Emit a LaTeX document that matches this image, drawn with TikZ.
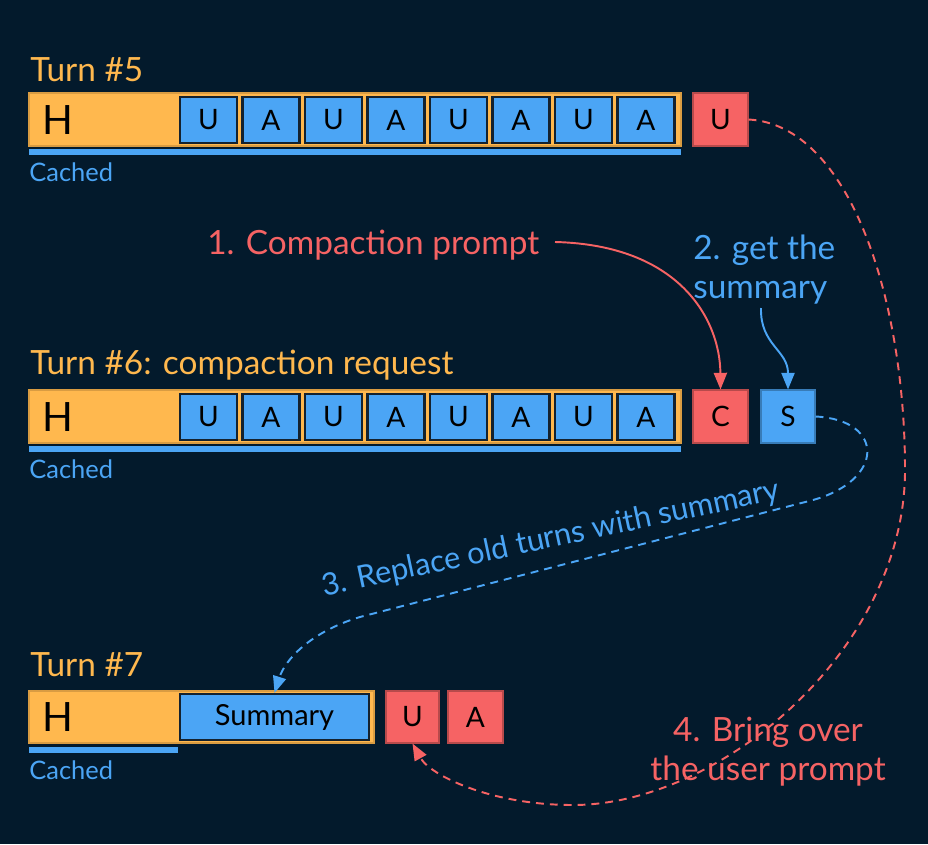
\documentclass[tikz,border=0pt]{standalone}
\usepackage{fontspec}
\setmainfont{Lato}
\usetikzlibrary{arrows.meta}
\definecolor{bgnavy}{HTML}{031A2C}
\definecolor{hdryellow}{HTML}{FFB84E}
\definecolor{msgblue}{HTML}{4BA5F5}
\definecolor{newred}{HTML}{F66364}
\definecolor{boxedge}{HTML}{14222F}

\tikzset{
  turnbar/.style={fill=hdryellow, draw=hdryellow!85!black, line width=0.8pt, minimum height=1.06cm, inner sep=0},
  msgbox/.style={fill=msgblue, draw=boxedge, line width=1.2pt, minimum width=1.14cm, minimum height=0.92cm, inner sep=0, font=\fontsize{16}{16}\selectfont},
  redbox/.style={fill=newred, draw=newred!75!black, line width=0.6pt, minimum width=1.1cm, minimum height=1.06cm, inner sep=0, font=\fontsize{16}{16}\selectfont},
  hdr/.style={inner sep=0, font=\fontsize{23}{23}\selectfont},
  turnlbl/.style={inner sep=0, anchor=west, text=hdryellow, font=\fontsize{19}{19}\selectfont},
  cachelbl/.style={inner sep=0, anchor=west, text=msgblue, font=\fontsize{14.5}{14.5}\selectfont},
  cacheline/.style={msgblue, line width=3.2pt},
  steplbl/.style={inner sep=0, font=\fontsize{19}{22}\selectfont},
  solidarrow/.style={line width=1.1pt, -{Triangle[length=9.5pt,width=7.5pt]}},
  dasharrow/.style={line width=1.1pt, dash pattern=on 4.5pt off 3.4pt, -{Triangle[length=9.5pt,width=7.5pt]}}
}

\begin{document}
\begin{tikzpicture}[x=0.02cm, y=-0.02cm]
  \fill[bgnavy] (0,0) rectangle (928,844);
  \useasboundingbox (0,0) rectangle (928,844);

  % turn 5
  \node[turnlbl] (t5) at (30,70) {Turn \#5};
  \node[turnbar, minimum width=13.04cm] (bar5) at (355,119.5) {};
  \node[hdr] (h5) at (58,120) {H};
  \foreach \lbl [count=\i from 0] in {U,A,U,A,U,A,U,A}
    \node[msgbox] (m5-\i) at ({208.5+62.5*\i},120) {\lbl};
  \node[redbox] (u5) at (720.5,119.5) {U};
  \draw[cacheline] (29,152) -- (681,152);
  \node[cachelbl] (c5) at (29,172) {Cached};

  % turn 6
  \node[turnlbl] (t6) at (30,365) {Turn \#6: compaction request};
  \node[turnbar, minimum width=13.04cm] (bar6) at (355,416.5) {};
  \node[hdr] (h6) at (58,417) {H};
  \foreach \lbl [count=\i from 0] in {U,A,U,A,U,A,U,A}
    \node[msgbox] (m6-\i) at ({208.5+62.5*\i},417) {\lbl};
  \node[redbox] (c6) at (720.5,416.5) {C};
  \node[redbox, fill=msgblue, draw=msgblue!75!black, minimum width=1.08cm] (s6) at (788,416.5) {S};
  \draw[cacheline] (29,449) -- (681,449);
  \node[cachelbl] (k6) at (29,469) {Cached};

  % turn 7
  \node[turnlbl] (t7) at (30,665) {Turn \#7};
  \node[turnbar, minimum width=6.9cm, minimum height=1.04cm] (bar7) at (201.5,717) {};
  \node[hdr] (h7) at (58,717) {H};
  \node[msgbox, minimum width=3.78cm, font=\fontsize{16.5}{16.5}\selectfont] (sum7) at (274.5,717) {Summary};
  \node[redbox, minimum width=1.06cm, minimum height=1.04cm] (u7) at (412.5,717) {U};
  \node[redbox, minimum height=1.04cm] (a7) at (475.5,717) {A};
  \draw[cacheline] (29,750) -- (178,750);
  \node[cachelbl] (k7) at (29,770) {Cached};

  % steps
  \node[steplbl, anchor=base west, text=newred] (step1) at (207,255) {1. Compaction prompt};
  \node[steplbl, anchor=north west, align=left, text=msgblue] (step2) at (693,235) {2. get the\\summary};
  \node[steplbl, rotate=12, text=msgblue, font=\fontsize{17.5}{20}\selectfont] (step3) at (551,539) {3. Replace old turns with summary};
  \node[steplbl, align=center, text=newred] (step4) at (768,752) {4. Bring over\\the user prompt};

  \coordinate (a1) at (555,242);
  \coordinate (a2) at (761,308);
  \draw[solidarrow, newred] (a1) .. controls (680,245) and (720,320) .. (c6.north);
  \draw[solidarrow, msgblue] (a2) .. controls (760,345) and (788,350) .. (s6.north);

  \draw[dasharrow, msgblue] (s6.east) .. controls (885,420) and (885,480) .. (813,500)
    -- (360,617) .. controls (310,632) and (285,660) .. (sum7.north);
  \draw[dasharrow, newred] (u5.east) .. controls (850,125) and (905,300) .. (905,470)
    .. controls (905,650) and (720,805) .. (573,805)
    .. controls (490,805) and (430,775) .. (u7.south);
\end{tikzpicture}
\end{document}
